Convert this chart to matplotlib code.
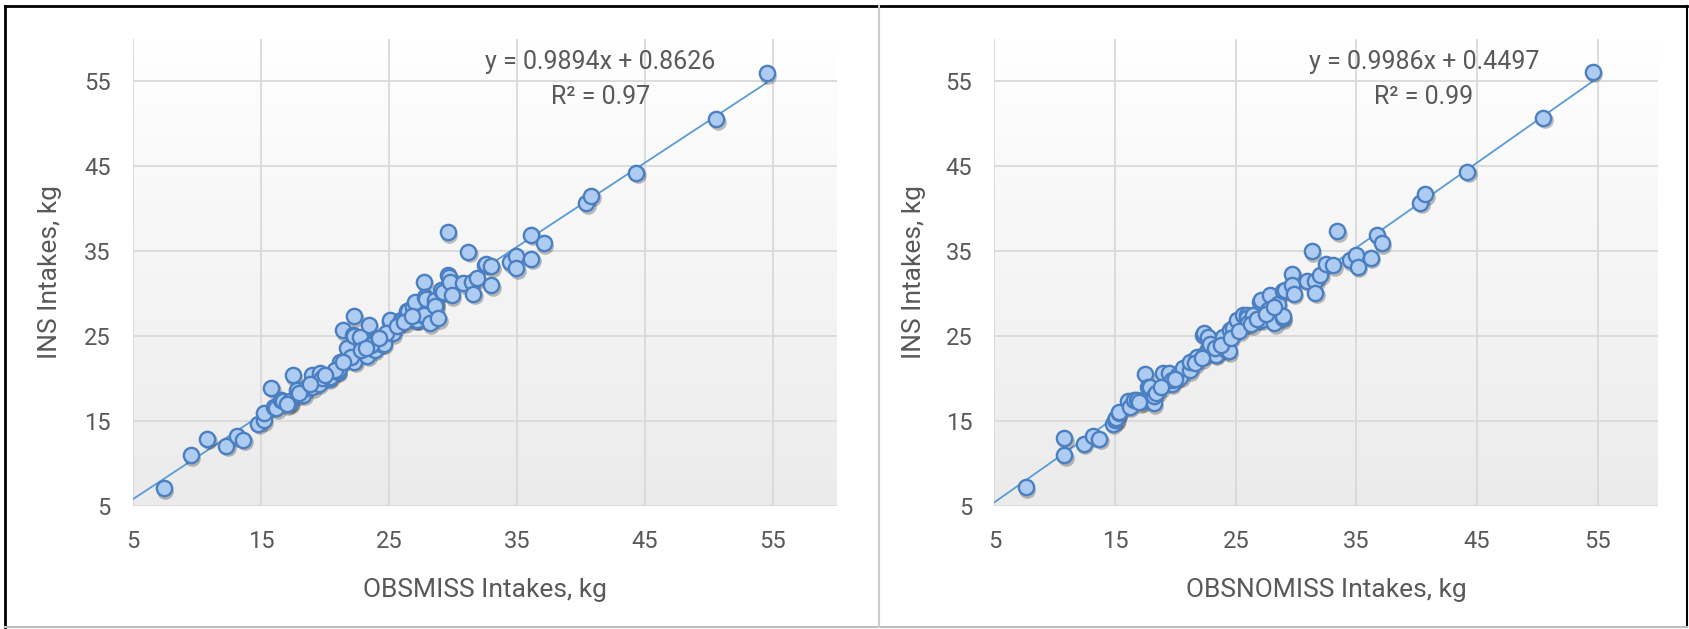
import numpy as np
import matplotlib
matplotlib.use("Agg")
import matplotlib.pyplot as plt
from matplotlib.colors import LinearSegmentedColormap
from matplotlib.lines import Line2D
import matplotlib.transforms as mtransforms

plt.rcParams['font.family'] = ['Roboto', 'DejaVu Sans']

# INS vs OBSMISS (left panel)
left_x = [7.4, 9.5, 10.8, 12.3, 13.1, 13.6, 14.8, 15.2, 15.2, 15.8, 16.0, 16.2, 16.6, 16.7,
          17.2, 17.3, 17.5, 17.8, 17.9, 18.3, 18.5, 19.0, 19.0, 19.5, 19.6, 20.3, 20.4, 21.0,
          21.0, 21.2, 21.4, 21.7, 21.7, 22.2, 22.2, 22.3, 22.3, 22.3, 22.7, 23.0, 23.3, 23.4,
          23.9, 23.9, 24.0, 24.4, 24.6, 25.1, 25.1, 25.3, 25.9, 26.0, 26.4, 26.5, 26.9, 27.0,
          27.0, 27.15, 27.2, 27.7, 27.7, 27.7, 27.8, 27.9, 28.2, 28.6, 28.6, 28.6, 28.85, 29.1,
          29.2, 29.6, 29.6, 29.7, 29.8, 29.9, 30.8, 31.2, 31.45, 31.6, 31.85, 32.5, 32.6, 33.0,
          33.0, 34.45, 34.95, 34.95, 36.1, 36.1, 37.1, 40.4, 40.8, 44.3, 50.55, 54.5,
          18.0, 19.8, 20.8, 22.0, 22.8, 23.6, 24.8, 25.6, 26.2, 26.8, 17.0, 18.8, 20.0, 21.4,
          24.2, 23.2]
left_y = [7.1, 11.0, 12.9, 12.1, 13.2, 12.8, 14.7, 15.1, 15.9, 18.9, 16.7, 16.5, 17.5, 17.3,
          17.1, 17.3, 20.4, 18.6, 18.1, 18.1, 18.9, 20.4, 19.0, 19.4, 20.6, 20.0, 20.2, 20.8,
          21.0, 22.0, 25.7, 22.4, 23.6, 22.2, 25.1, 27.3, 22.0, 25.0, 24.9, 23.2, 22.7, 26.3,
          23.4, 24.7, 24.5, 24.1, 24.1, 26.7, 26.9, 25.3, 26.9, 26.7, 27.9, 27.9, 28.4, 26.9,
          29.0, 26.9, 26.9, 31.4, 27.3, 27.5, 29.6, 29.4, 26.5, 28.8, 29.2, 28.5, 27.1, 30.4,
          30.2, 32.2, 37.2, 32.0, 31.4, 29.8, 31.2, 34.9, 31.4, 30.0, 31.8, 33.4, 33.5, 33.2,
          31.0, 33.7, 34.4, 33.0, 34.1, 36.9, 35.9, 40.6, 41.5, 44.2, 50.5, 55.9,
          18.3, 20.1, 21.0, 22.5, 23.3, 24.0, 25.3, 26.2, 26.6, 27.3, 17.0, 19.3, 20.4, 22.0,
          24.8, 23.6]

# INS vs OBSNOMISS (right panel)
right_x = [7.6, 10.8, 10.8, 12.4, 13.2, 13.7, 14.8, 15.0, 15.1, 15.3, 15.3, 16.1, 16.2, 16.6,
           16.8, 17.3, 17.5, 17.7, 17.9, 18.2, 18.2, 18.4, 19.0, 19.5, 19.7, 19.7, 20.2, 20.4,
           20.6, 21.2, 21.2, 21.75, 22.3, 22.4, 22.6, 22.7, 22.4, 22.85, 23.3, 23.35, 23.3, 23.96,
           24.2, 24.4, 24.5, 24.8, 25.07, 25.6, 25.9, 25.9, 26.0, 26.45, 27.0, 27.1, 27.1, 27.7,
           27.8, 28.2, 28.5, 28.9, 28.9, 28.9, 29.07, 29.7, 29.7, 29.8, 30.9, 31.3, 31.6, 31.6,
           32.0, 32.5, 33.1, 33.4, 34.45, 35.0, 35.1, 36.2, 36.7, 37.1, 40.3, 40.7, 44.2, 50.5,
           54.6, 18.8, 20.0, 21.6, 22.2, 23.8, 24.6, 25.3, 26.3, 26.8, 27.5, 28.2, 17.0]
right_y = [7.2, 11.0, 13.0, 12.3, 13.2, 12.9, 14.7, 15.1, 15.3, 16.0, 16.1, 17.3, 16.7, 17.5,
           17.5, 17.3, 20.5, 19.0, 19.0, 17.1, 17.9, 18.3, 20.6, 20.6, 19.4, 19.8, 20.4, 20.2,
           21.2, 21.0, 22.0, 22.5, 25.1, 25.3, 23.2, 24.9, 22.8, 24.1, 23.0, 22.8, 23.6, 24.9,
           23.4, 23.2, 25.7, 25.9, 26.9, 27.5, 27.5, 27.1, 26.5, 27.5, 29.0, 26.9, 29.2, 28.1,
           29.8, 26.5, 28.8, 27.1, 27.3, 30.3, 30.4, 32.3, 31.0, 30.0, 31.5, 35.0, 31.5, 30.1,
           32.2, 33.5, 33.3, 37.3, 33.9, 34.5, 33.15, 34.2, 36.9, 35.9, 40.7, 41.7, 44.3, 50.7,
           56.1, 19.0, 20.0, 21.8, 22.4, 24.0, 24.8, 25.6, 26.4, 27.0, 27.6, 28.4, 17.2]

ticks = [5, 15, 25, 35, 45, 55]
fits = [(0.9894, 0.8626, "0.97"), (0.9986, 0.4497, "0.99")]
xlabels = ["OBSMISS Intakes, kg", "OBSNOMISS Intakes, kg"]
ylabel = "INS Intakes, kg"

W, H = 1690, 629
fig = plt.figure(figsize=(W / 100, H / 100), dpi=100)
fig.patch.set_facecolor('white')

grey = '#595959'
bg = LinearSegmentedColormap.from_list('bg', ['#ffffff', '#ebebeb'])

# axes boxes in pixels: left, right edge, top, bottom
boxes = [(133, 837), (994.5, 1658)]
top_px, bot_px = 38.5, 506
eq_x = [41.5, 40.6]

for i, (xs, ys) in enumerate([(left_x, left_y), (right_x, right_y)]):
    x0, x1 = boxes[i]
    ax = fig.add_axes([x0 / W, 1 - bot_px / H, (x1 - x0) / W, (bot_px - top_px) / H])
    ax.imshow(np.linspace(0, 1, 256).reshape(-1, 1), cmap=bg, extent=[5, 60, 5, 60],
              aspect='auto', zorder=0, origin='upper')
    for t in ticks:
        ax.axvline(t, color='#d9d9d9', lw=1.3, zorder=1)
        ax.axhline(t, color='#d9d9d9', lw=1.3, zorder=1)
    ax.set_xlim(5, 60)
    ax.set_ylim(5, 60)
    for s in ax.spines.values():
        s.set_visible(False)
    ax.set_xticks(ticks)
    ax.set_yticks(ticks)
    ax.tick_params(length=0, labelsize=17, colors=grey, pad=16)
    ax.tick_params(axis='x', pad=17)

    slope, icpt, r2 = fits[i]
    lx = np.array([5, max(xs)])
    ax.plot(lx, slope * lx + icpt, color='#5b9bd5', lw=1.3, zorder=2)

    shadow = mtransforms.offset_copy(ax.transData, fig=fig, x=1.5, y=-2.5, units='dots')
    ax.plot(xs, ys, 'o', ms=12, color='black', alpha=0.25, mew=0, transform=shadow, zorder=3)
    ax.plot(xs, ys, 'o', ms=11, mfc='#aecbf2', mec='#4a7fc1', mew=1.7, zorder=4)

    ax.text(eq_x[i], 57.2, "y = %.4fx + %.4f" % (slope, icpt), ha='center', va='center',
            fontsize=18, color=grey)
    ax.text(eq_x[i], 53.1, "R² = " + r2, ha='center', va='center', fontsize=18, color=grey)

    ax.set_xlabel(xlabels[i], fontsize=19, color=grey)
    ax.set_ylabel(ylabel, fontsize=19, color=grey)
    ax.xaxis.set_label_coords(0.5, -0.154)
    ax.yaxis.set_label_coords(-0.101 if i == 0 else -0.103, 0.5)

# outer frame and divider
def fline(xp, yp, **kw):
    fig.add_artist(Line2D([p / W for p in xp], [1 - p / H for p in yp],
                          transform=fig.transFigure, **kw))

fline([5, 1687], [6, 6], color='black', lw=2)
fline([5, 5], [6, 627], color='black', lw=2)
fline([1687, 1687], [6, 627], color='black', lw=1.5)
fline([5, 1687], [627, 627], color='#bdbdbd', lw=1.5)
fline([879, 879], [6, 627], color='#cccccc', lw=1.5)

fig.savefig('out.png', dpi=100)
